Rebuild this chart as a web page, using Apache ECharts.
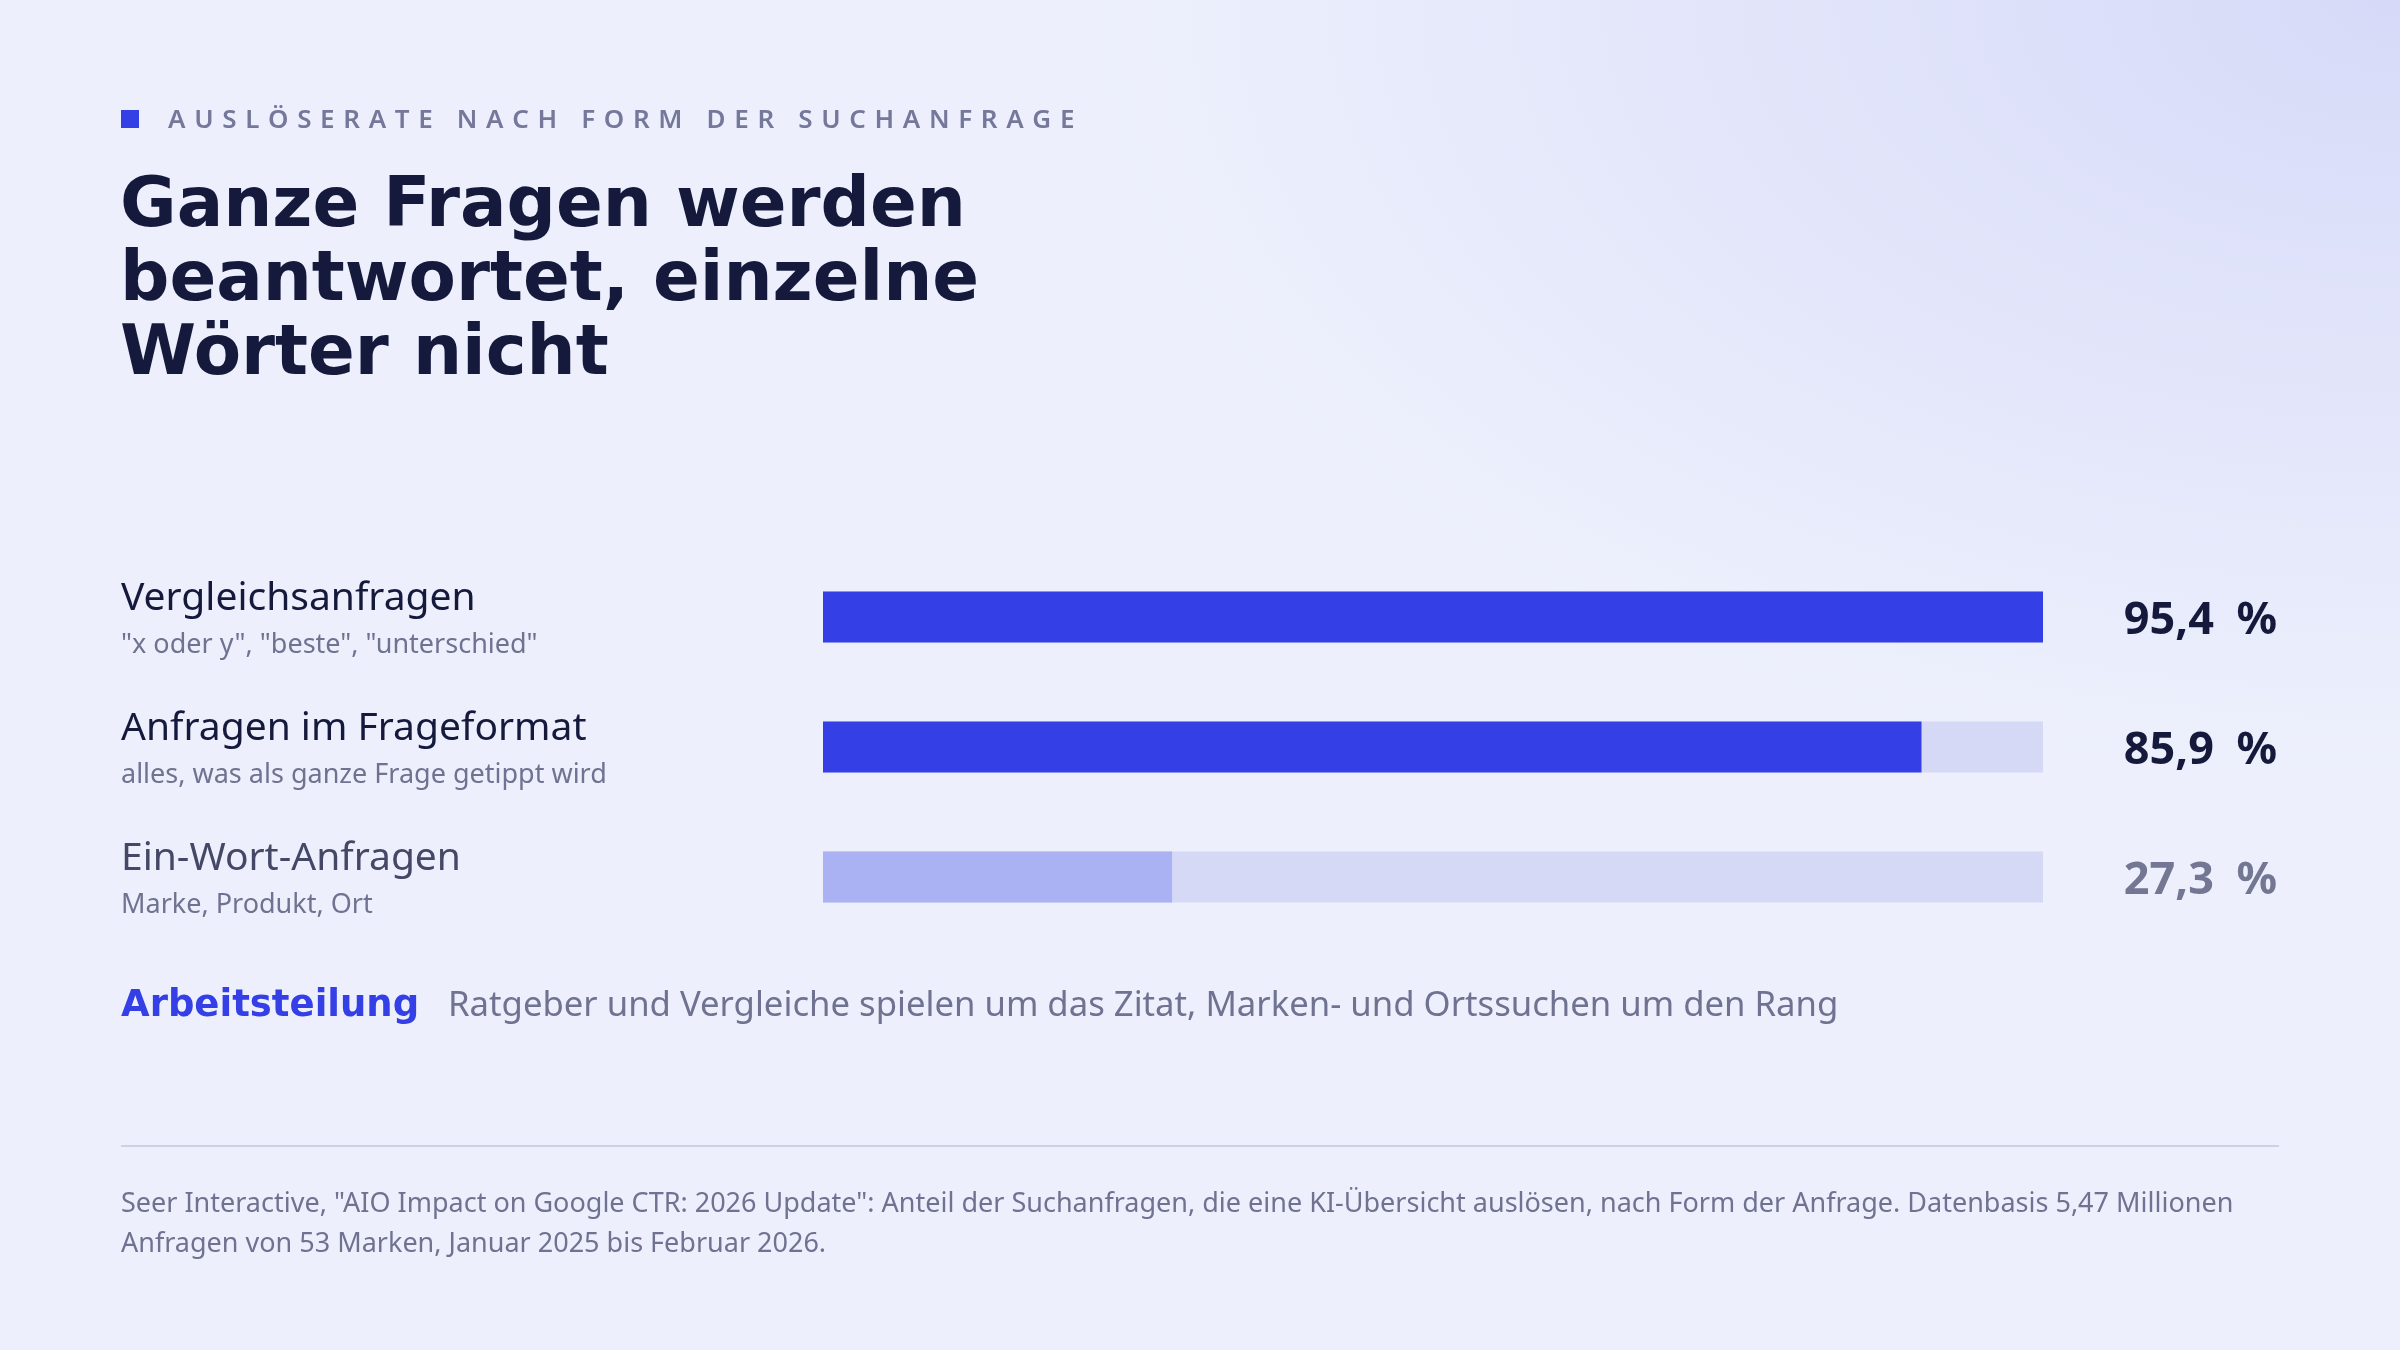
<!DOCTYPE html>
<html>
<head>
<meta charset="utf-8">
<script src="https://cdn.jsdelivr.net/npm/echarts@6/dist/echarts.min.js"></script>
<style>
  html, body { margin: 0; padding: 0; }
  body {
    width: 2400px; height: 1350px; overflow: hidden;
    background:
      radial-gradient(ellipse 1600px 950px at 100% 0%, #d6daf8 0%, #e2e5fa 40%, rgba(236,239,252,0) 82%),
      #edf0fc;
  }
  #chart { width: 2400px; height: 1350px; }
</style>
</head>
<body>
<div id="chart"></div>
<script>
// Daten
const categories = ['Vergleichsanfragen', 'Anfragen im Frageformat', 'Ein-Wort-Anfragen']
const subtitles = ['"x oder y", "beste", "unterschied"', 'alles, was als ganze Frage getippt wird', 'Marke, Produkt, Ort']
const values = [95.4, 85.9, 27.3]

const eyebrow = 'AUSLÖSERATE NACH FORM DER SUCHANFRAGE'
const title = 'Ganze Fragen werden\nbeantwortet, einzelne\nWörter nicht'
const noteKey = 'Arbeitsteilung'
const noteText = 'Ratgeber und Vergleiche spielen um das Zitat, Marken- und Ortssuchen um den Rang'
const source = 'Seer Interactive, "AIO Impact on Google CTR: 2026 Update": Anteil der Suchanfragen, die eine KI-Übersicht auslösen, nach Form der Anfrage. Datenbasis 5,47 Millionen\nAnfragen von 53 Marken, Januar 2025 bis Februar 2026.'

const BLUE = '#3440e6'
const BLUE_SOFT = '#abb2f3'
const TRACK = '#d6d9f6'
const INK = '#151a3d'
const GREY = '#6f7290'
const FONT = '"Noto Sans", sans-serif'
const DISPLAY = '"DejaVu Sans", sans-serif'

// Sperrsatz für die Dachzeile
const spaced = s => s.split('').join('\u2004')
const fmt = v => v.toFixed(1).replace('.', ',') + '\u2002%'
const isStrong = v => v > 50

const chart = echarts.init(document.getElementById('chart'), null, { renderer: 'canvas' })

const opt = {
  backgroundColor: 'transparent',
  animation: false,
  grid: { left: 823, right: 357, top: 552, height: 390 },
  xAxis: {
    type: 'value', min: 0, max: Math.max(...values),
    show: false
  },
  yAxis: [
    {
      type: 'category', inverse: true, data: categories,
      axisLine: { show: false }, axisTick: { show: false }, splitLine: { show: false },
      axisLabel: {
        align: 'left', margin: 702,
        formatter: (v, i) => {
          const key = isStrong(values[i]) ? 'name' : 'nameMuted'
          return `{${key}|${v}}\n{sub|${subtitles[i]}}`
        },
        rich: {
          name: { fontFamily: FONT, fontSize: 39, color: INK, lineHeight: 57 },
          nameMuted: { fontFamily: FONT, fontSize: 39, color: '#444866', lineHeight: 57 },
          sub: { fontFamily: FONT, fontSize: 27, color: GREY, lineHeight: 37 }
        }
      }
    },
    {
      type: 'category', inverse: true, position: 'right', data: values.map(fmt),
      axisLine: { show: false }, axisTick: { show: false }, splitLine: { show: false },
      axisLabel: {
        align: 'right', margin: 234,
        formatter: (v, i) => `{${isStrong(values[i]) ? 'strong' : 'muted'}|${v}}`,
        rich: {
          strong: { fontFamily: FONT, fontSize: 45, fontWeight: 'bold', color: INK, padding: [9, 0, 0, 0] },
          muted: { fontFamily: FONT, fontSize: 45, fontWeight: 'bold', color: '#737793', padding: [9, 0, 0, 0] }
        }
      }
    }
  ],
  series: [{
    type: 'bar',
    yAxisIndex: 0,
    data: values,
    barWidth: 51,
    showBackground: true,
    backgroundStyle: { color: TRACK },
    itemStyle: {
      color: p => isStrong(p.value) ? BLUE : BLUE_SOFT
    },
    label: { show: false }
  }],
  graphic: [
    { type: 'rect', shape: { x: 121, y: 110, width: 18, height: 18 }, style: { fill: BLUE } },
    {
      type: 'text', x: 168, y: 121,
      style: { text: spaced(eyebrow), font: `600 26px ${FONT}`, fill: '#75789a', verticalAlign: 'middle' }
    },
    {
      type: 'text', x: 120, y: 171,
      style: { text: title, font: `bold 69px ${DISPLAY}`, fill: INK, lineHeight: 74, verticalAlign: 'top' }
    },
    {
      type: 'text', x: 121, y: 1006,
      style: { text: noteKey, font: `bold 37px ${DISPLAY}`, fill: BLUE, verticalAlign: 'middle' }
    },
    {
      type: 'text', x: 448, y: 1006,
      style: { text: noteText, font: `34.7px ${FONT}`, fill: GREY, verticalAlign: 'middle' }
    },
    {
      type: 'line', shape: { x1: 121, y1: 1146, x2: 2279, y2: 1146 },
      style: { stroke: '#cfd1e2', lineWidth: 2 }
    },
    {
      type: 'text', x: 121, y: 1184,
      style: { text: source, font: `27px ${FONT}`, fill: GREY, lineHeight: 40, verticalAlign: 'top' }
    }
  ]
}

chart.setOption(opt)
</script>
</body>
</html>
